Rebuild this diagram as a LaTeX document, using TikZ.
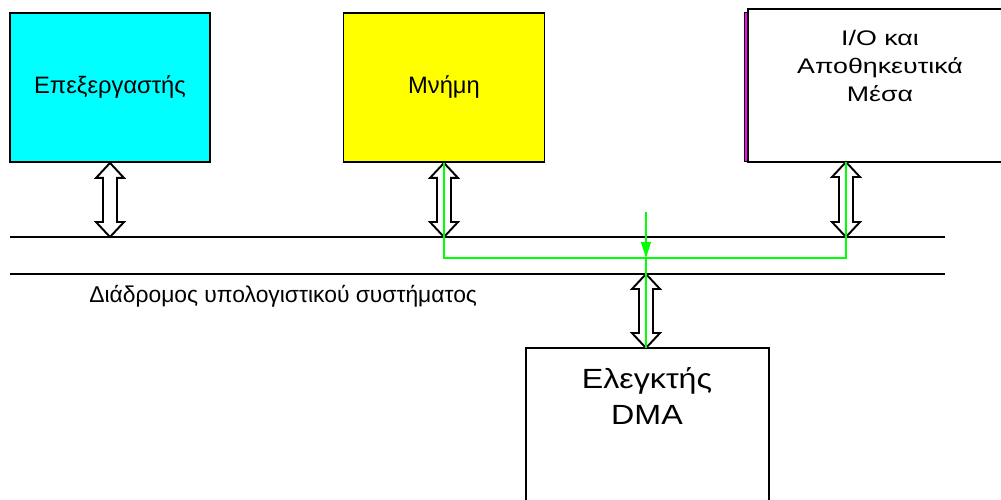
\documentclass[tikz,border=0pt]{standalone}
\usepackage{fontspec}
\setmainfont{Liberation Sans}
\newfontfamily\iofont[FakeStretch=1.27]{Liberation Sans}
\newfontfamily\dmafont[FakeStretch=1.16]{Liberation Sans}
\usetikzlibrary{arrows.meta, calc, positioning}
\definecolor{cpucyan}{RGB}{0,255,255}
\definecolor{memyellow}{RGB}{255,255,0}
\definecolor{dmagreen}{RGB}{0,255,0}
\definecolor{iomagenta}{RGB}{255,0,255}

\tikzset{
  unitbox/.style={draw, line width=1.1pt, inner sep=0pt, align=center},
  unittext/.style={font=\fontsize{13.5}{17}\selectfont, align=center},
  busline/.style={line width=1.1pt},
  blockarrow/.style={draw, fill=white, line width=1.1pt, line join=miter},
  dmapath/.style={dmagreen, line width=0.9pt},
}

% hollow double arrow from #1 down to #2 (same x)
\newcommand{\busarrow}[2]{%
  \draw[blockarrow] (#1) -- ($(#1)+(14,15)$) -- ($(#1)+(7,15)$)
    -- ($(#2)+(7,-15)$) -- ($(#2)+(14,-15)$) -- (#2)
    -- ($(#2)+(-14,-15)$) -- ($(#2)+(-7,-15)$)
    -- ($(#1)+(-7,15)$) -- ($(#1)+(-14,15)$) -- cycle;}

\begin{document}
\begin{tikzpicture}[x=0.02cm, y=-0.02cm]
  \useasboundingbox (0,0) rectangle (1001,500);

  % units above the bus
  \node[unitbox, unittext, fill=cpucyan, minimum width=4cm, minimum height=2.98cm] (cpu) at (110,87.5) {Επεξεργαστής};
  \node[unitbox, unittext, fill=memyellow, minimum width=4.02cm, minimum height=2.98cm] (mem) at (444,87.5) {Μνήμη};
  \draw[line width=0.5pt, fill=iomagenta] (744,12) rectangle (747.5,161);
  \node[unitbox, minimum width=5.16cm, minimum height=3.06cm] (io) at (877,85.5) {};
  \node[font=\iofont\fontsize{12}{16.2}\selectfont, align=center] (iotext) at (880,66) {I/O και\\Αποθηκευτικά\\Μέσα};

  % the bus
  \coordinate (upW) at (10,237);
  \coordinate (upE) at (945,237);
  \coordinate (loW) at (10,274);
  \coordinate (loE) at (945,274);
  \draw[busline] (upW) -- (upE);
  \draw[busline] (loW) -- (loE);
  \node[font=\fontsize{13}{15}\selectfont, anchor=base west, inner sep=0pt] (buslabel) at (89,302) {Διάδρομος υπολογιστικού συστήματος};

  % DMA controller below the bus
  \node[unitbox, minimum width=4.86cm, minimum height=3.64cm] (dma) at (647.5,439) {};
  \node[font=\dmafont\fontsize{15.8}{20.4}\selectfont, align=center] (dmatext) at (647,396) {Ελεγκτής\\DMA};

  % ports
  \coordinate (ioport) at (846,162);
  \coordinate (dmaport) at (646,348);
  \coordinate (cpubus) at (cpu.south |- upW);
  \coordinate (membus) at (mem.south |- upW);
  \coordinate (iobus) at (ioport |- upW);
  \coordinate (dmabus) at (dmaport |- loW);

  \busarrow{cpu.south}{cpubus}
  \busarrow{mem.south}{membus}
  \busarrow{ioport}{iobus}
  \busarrow{dmabus}{dmaport}

  % DMA transfer path
  \coordinate (dmajoin) at (646,258);
  \coordinate (dmarequest) at (646,212);
  \draw[dmapath] (mem.south) |- (dmajoin) -| (ioport);
  \draw[dmapath, -{Triangle[length=9pt, width=5.5pt]}] (dmarequest) -- (dmajoin);
  \draw[dmapath] (dmajoin) -- (dmaport);
\end{tikzpicture}
\end{document}
